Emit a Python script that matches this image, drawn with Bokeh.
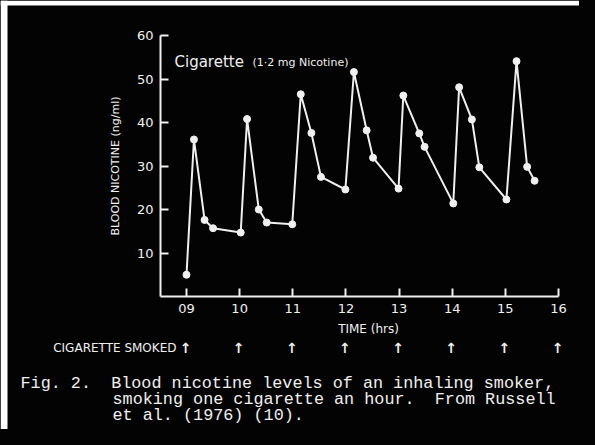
from bokeh.plotting import figure
from bokeh.models import Label, FixedTicker, Range1d, BoxAnnotation
from bokeh.core.properties import value
from bokeh.embed import file_html
from bokeh.resources import INLINE

# ---- data ----
hours = [9.00, 9.14, 9.34, 9.50, 10.02, 10.14, 10.36, 10.51, 10.99, 11.15, 11.35, 11.53,
         11.99, 12.15, 12.39, 12.51, 12.99, 13.08, 13.38, 13.48, 14.02, 14.13, 14.37,
         14.51, 15.02, 15.21, 15.41, 15.55]
nicotine = [5.0, 36.1, 17.6, 15.7, 14.7, 40.8, 20.0, 17.0, 16.6, 46.5, 37.6, 27.5,
            24.6, 51.6, 38.2, 31.9, 24.8, 46.2, 37.5, 34.4, 21.4, 48.1, 40.7,
            29.7, 22.3, 54.1, 29.8, 26.6]
x_ticks = [9, 10, 11, 12, 13, 14, 15, 16]
x_tick_labels = ["09", "10", "11", "12", "13", "14", "15", "16"]
y_ticks = [10, 20, 30, 40, 50, 60]
smoked_hours = [9, 10, 11, 12, 13, 14, 15, 16]
x_axis_span = (8.51, 16.0)
y_axis_span = (0, 60)

title_main = "Cigarette"
title_sub = "(1·2 mg Nicotine)"
y_label = "BLOOD NICOTINE (ng/ml)"
x_label = "TIME (hrs)"
smoked_label = "CIGARETTE SMOKED"
caption = ["Fig. 2.  Blood nicotine levels of an inhaling smoker,",
           "smoking one cigarette an hour.  From Russell",
           "et al. (1976) (10)."]

FG = "#f0f0f0"
BG = "#030303"
SANS = "DejaVu Sans"
MONO = "Liberation Mono"

W, H = 579, 429
# scale: one hour = 372/7 px, 9h at 186 px; 10 ng/ml = 43.5 px, 0 at 296 px
KX = 372 / 7
KY = 261 / 60
x_start = 9 - 186 / KX
x_end = 9 + (W - 186) / KX
y_start = -(H - 296) / KY
y_end = 60 + 35 / KY

p = figure(width=W, height=H, x_range=Range1d(x_start, x_end), y_range=Range1d(y_start, y_end),
           output_backend="svg", toolbar_location=None, title=None, min_border=0,
           background_fill_color=BG, border_fill_color=BG, outline_line_color=None)
p.outline_line_color = None
p.grid.visible = False

# white scan margins at the left and top edges of the slide
p.add_layout(BoxAnnotation(left=x_start, right=x_start + 7 / KX, fill_color="#ffffff",
                           fill_alpha=1, line_color=None))
p.add_layout(BoxAnnotation(bottom=y_end - 5 / KY, top=y_end, fill_color="#ffffff",
                           fill_alpha=1, line_color=None))

for ax in (p.xaxis[0], p.yaxis[0]):
    ax.axis_line_color = FG
    ax.axis_line_width = 2
    ax.major_tick_line_color = FG
    ax.major_tick_line_width = 2
    ax.major_tick_in = 8
    ax.major_tick_out = 0
    ax.minor_tick_line_color = None
    ax.major_label_text_color = FG
    ax.major_label_text_font = SANS
    ax.major_label_text_font_size = "13px"
    ax.major_label_standoff = 7

p.xaxis.fixed_location = y_axis_span[0]
p.xaxis.bounds = x_axis_span
p.xaxis.ticker = FixedTicker(ticks=x_ticks)
p.xaxis.major_label_overrides = {t: l for t, l in zip(x_ticks, x_tick_labels)}

p.yaxis.fixed_location = x_axis_span[0]
p.yaxis.bounds = y_axis_span
p.yaxis.ticker = FixedTicker(ticks=y_ticks)
p.yaxis.axis_label = y_label
p.yaxis.axis_label_text_color = FG
p.yaxis.axis_label_text_font = SANS
p.yaxis.axis_label_text_font_size = "11px"
p.yaxis.axis_label_text_font_style = "normal"
p.yaxis.axis_label_standoff = 12

p.line(hours, nicotine, line_color=FG, line_width=2)
p.scatter(hours, nicotine, size=7, fill_color=FG, line_color=FG)

def lab(x, y, text, dx=0, dy=0, font=SANS, size="12px", align="left", baseline="alphabetic", style="normal"):
    p.add_layout(Label(x=x, y=y, x_offset=dx, y_offset=dy, text=text, text_color=FG,
                       text_font=font, text_font_size=size, text_align=align,
                       text_baseline=baseline, text_font_style=style))

# chart title inside the frame
lab(9, 60, title_main, dx=-12, dy=-26.5, size="15px")
lab(9, 60, title_sub, dx=66, dy=-26.5, size="11px")

# x axis title
lab(12, 0, x_label, dx=22.6, dy=-32, align="center", baseline="middle")

# cigarette smoked row
lab(smoked_hours[0], 0, smoked_label, dx=-10, dy=-51, align="right", baseline="middle")
p.text(x=smoked_hours, y=[0] * len(smoked_hours), text=["↑"] * len(smoked_hours),
       x_offset=-1, y_offset=51, text_color=FG, text_font=value(SANS), text_font_size="14px",
       text_font_style="bold", text_align="center", text_baseline="middle")

# caption (non-breaking spaces keep the typewriter spacing)
NB = "\u00a0"
for i, (dx, dy) in enumerate([(-166, -87), (-74, -103), (-74, -119)]):
    lab(9, 0, caption[i].replace(" ", NB), dx=dx, dy=dy, font=MONO, size="16.8px")

html = file_html(p, INLINE)
html = html.replace("<head>", "<head><style>html,body{background-color:#030303;}</style>", 1)
open("out.html", "w").write(html)
